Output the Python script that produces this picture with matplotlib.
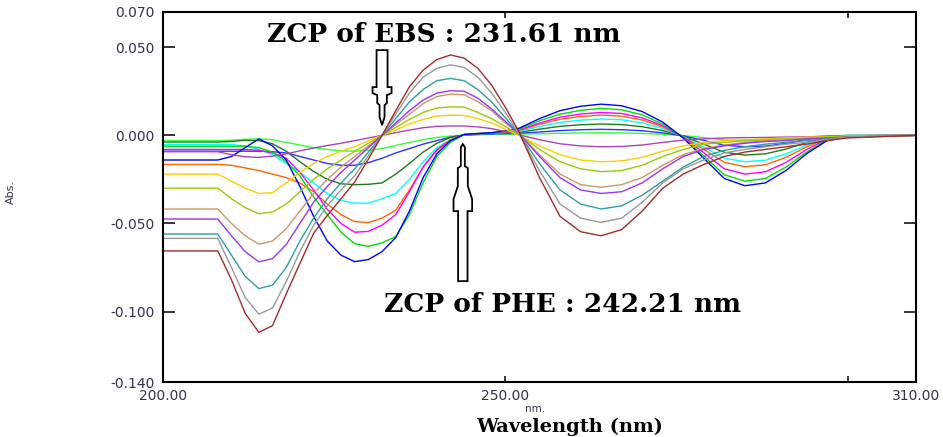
import matplotlib
matplotlib.use("Agg")
import matplotlib.pyplot as plt
from matplotlib.patches import Polygon
from matplotlib.transforms import ScaledTranslation

# ---------------------------
# 1. Data (derivative spectra)
# ---------------------------
wavelength = [200, 208, 210, 212, 214, 216, 218, 220, 222, 224, 226, 228, 230,
              232, 234, 236, 238, 240, 242, 244, 246, 248, 250, 252, 255, 258,
              261, 264, 267, 270, 273, 276, 279, 282, 285, 288, 291, 294, 297,
              300, 310]

# EBS series (zero crossing 231.61 nm)
ebs_maroon = [-0.0656, -0.0656, -0.082, -0.101, -0.1118, -0.108, -0.090, -0.0727, -0.0556, -0.0455,
              -0.036, -0.0265, -0.0135, 0.0, 0.014, 0.0276, 0.037, 0.0430, 0.0456, 0.0438,
              0.038, 0.0285, 0.016, 0.002, -0.024, -0.046, -0.0547, -0.057, -0.0535, -0.043,
              -0.030, -0.022, -0.0165, -0.012, -0.0095, -0.008, -0.0065, -0.005, -0.003, -0.0015, 0.0]
ebs_gray = [-0.0585, -0.0585, -0.075, -0.092, -0.1015, -0.098, -0.083, -0.066, -0.051, -0.040,
            -0.031, -0.023, -0.0115, 0.0, 0.012, 0.024, 0.033, 0.038, 0.040, 0.0385,
            0.033, 0.024, 0.013, 0.001, -0.020, -0.039, -0.047, -0.0494, -0.047, -0.038,
            -0.027, -0.019, -0.014, -0.010, -0.008, -0.0065, -0.005, -0.004, -0.0025, -0.001, 0.0]
ebs_teal = [-0.056, -0.056, -0.068, -0.080, -0.087, -0.085, -0.075, -0.060, -0.047, -0.036,
            -0.027, -0.019, -0.0095, 0.0, 0.0095, 0.019, 0.026, 0.031, 0.0323, 0.031,
            0.026, 0.019, 0.010, 0.001, -0.016, -0.031, -0.039, -0.0418, -0.040, -0.034,
            -0.026, -0.018, -0.012, -0.0085, -0.0065, -0.005, -0.004, -0.003, -0.002, -0.001, 0.0]
ebs_violet = [-0.0475, -0.0475, -0.057, -0.066, -0.0718, -0.070, -0.062, -0.050, -0.038, -0.029,
              -0.021, -0.014, -0.007, 0.0, 0.007, 0.014, 0.020, 0.024, 0.0253, 0.025,
              0.021, 0.015, 0.008, 0.001, -0.012, -0.024, -0.031, -0.033, -0.032, -0.027,
              -0.019, -0.012, -0.008, -0.006, -0.0045, -0.0035, -0.003, -0.002, -0.0015, -0.001, 0.0]
ebs_tan = [-0.0418, -0.0418, -0.050, -0.057, -0.0618, -0.060, -0.053, -0.043, -0.033, -0.025,
           -0.018, -0.012, -0.006, 0.0, 0.006, 0.012, 0.018, 0.022, 0.0234, 0.023,
           0.019, 0.014, 0.007, 0.001, -0.011, -0.022, -0.028, -0.0295, -0.028, -0.024,
           -0.017, -0.011, -0.0075, -0.0055, -0.004, -0.003, -0.0025, -0.002, -0.0015, -0.001, 0.0]
ebs_yellowgreen = [-0.030, -0.030, -0.036, -0.041, -0.0445, -0.0435, -0.039, -0.032, -0.025, -0.019,
                   -0.014, -0.009, -0.0045, 0.0, 0.0045, 0.009, 0.013, 0.0155, 0.0162, 0.016,
                   0.013, 0.0095, 0.005, 0.0005, -0.008, -0.015, -0.019, -0.0206, -0.020, -0.017,
                   -0.012, -0.008, -0.005, -0.004, -0.003, -0.0025, -0.002, -0.0015, -0.001, -0.0005, 0.0]
ebs_gold = [-0.022, -0.022, -0.026, -0.030, -0.033, -0.0325, -0.027, -0.021, -0.016, -0.012,
            -0.009, -0.0065, -0.003, 0.0, 0.003, 0.0065, 0.009, 0.011, 0.0115, 0.0113,
            0.0095, 0.007, 0.0035, 0.0, -0.006, -0.011, -0.014, -0.015, -0.0145, -0.0125,
            -0.009, -0.006, -0.004, -0.003, -0.0025, -0.002, -0.0015, -0.001, -0.0008, -0.0004, 0.0]
ebs_orchid = [-0.0093, -0.0093, -0.011, -0.0122, -0.0125, -0.0118, -0.0105, -0.0088, -0.0072, -0.0058,
              -0.0045, -0.003, -0.0015, 0.0, 0.0015, 0.003, 0.0043, 0.0051, 0.0053, 0.0053,
              0.0048, 0.0038, 0.0022, 0.0003, -0.0025, -0.0048, -0.006, -0.0065, -0.0063, -0.0055,
              -0.004, -0.0027, -0.002, -0.0015, -0.0013, -0.0012, -0.001, -0.0008, -0.0005, -0.0003, 0.0]

# PHE series (zero crossing 242.21 nm)
phe_blue = [-0.014, -0.014, -0.012, -0.007, -0.002, -0.006, -0.014, -0.029, -0.046, -0.060,
            -0.068, -0.0717, -0.0705, -0.066, -0.058, -0.043, -0.024, -0.0105, -0.003,
            0.0005, 0.001, 0.0015, 0.0025, 0.004,
            0.0095, 0.014, 0.0165, 0.0177, 0.0168, 0.0135, 0.0075, -0.0015, -0.013, -0.0245,
            -0.0286, -0.027, -0.020, -0.0105, -0.003, -0.0005, 0.0]
phe_green = [-0.0062, -0.0062, -0.0062, -0.0062, -0.007, -0.0095, -0.015, -0.023, -0.035, -0.045,
             -0.055, -0.0615, -0.063, -0.061, -0.0575, -0.045, -0.027, -0.012, -0.004,
             0.0005, 0.001, 0.0015, 0.0022, 0.0035,
             0.0083, 0.012, 0.0142, 0.0153, 0.0145, 0.0116, 0.0064, -0.0013, -0.0117, -0.0224,
             -0.026, -0.0245, -0.018, -0.0096, -0.0026, -0.0005, 0.0]
phe_magenta = [-0.008, -0.008, -0.008, -0.008, -0.0085, -0.010, -0.013, -0.021, -0.031, -0.042,
               -0.050, -0.055, -0.0545, -0.051, -0.045, -0.032, -0.018, -0.0085, -0.003,
               0.0005, 0.001, 0.0014, 0.002, 0.003,
               0.007, 0.0103, 0.0121, 0.013, 0.0124, 0.0099, 0.0055, -0.001, -0.0099, -0.019,
               -0.022, -0.0207, -0.0154, -0.0081, -0.0022, -0.0004, 0.0]
phe_orange = [-0.0165, -0.0165, -0.017, -0.0185, -0.020, -0.022, -0.024, -0.027, -0.032, -0.039,
              -0.045, -0.049, -0.0495, -0.047, -0.0425, -0.031, -0.018, -0.008, -0.0025,
              0.0004, 0.0009, 0.0013, 0.0018, 0.0027,
              0.0062, 0.0091, 0.0107, 0.0115, 0.0109, 0.0087, 0.0048, -0.0009, -0.008, -0.0153,
              -0.0178, -0.0167, -0.0125, -0.0066, -0.0018, -0.0004, 0.0]
phe_cyan = [-0.0053, -0.0053, -0.0053, -0.006, -0.008, -0.011, -0.016, -0.021, -0.027, -0.033,
            -0.037, -0.0385, -0.0385, -0.036, -0.033, -0.025, -0.015, -0.007, -0.0025,
            0.0004, 0.0008, 0.0012, 0.0016, 0.0022,
            0.005, 0.0073, 0.0086, 0.0093, 0.0088, 0.0071, 0.0039, -0.0007, -0.0068, -0.0129,
            -0.015, -0.0141, -0.0105, -0.0056, -0.0015, -0.0003, 0.0]
phe_darkgreen = [-0.0038, -0.0038, -0.0035, -0.0028, -0.003, -0.0048, -0.009, -0.015, -0.0205, -0.025,
                 -0.0275, -0.028, -0.0278, -0.027, -0.022, -0.016, -0.0095, -0.0045, -0.0012,
                 0.0003, 0.0007, 0.001, 0.0013, 0.0017,
                 0.0035, 0.0051, 0.006, 0.0064, 0.0061, 0.0049, 0.0027, -0.0005, -0.005, -0.0096,
                 -0.0112, -0.0105, -0.0078, -0.0041, -0.0011, -0.0002, 0.0]
phe_blue2 = [-0.009, -0.009, -0.009, -0.009, -0.009, -0.0093, -0.010, -0.012, -0.014, -0.016,
             -0.017, -0.017, -0.0155, -0.013, -0.010, -0.0075, -0.005, -0.003, -0.001,
             0.0002, 0.0005, 0.0008, 0.001, 0.0012,
             0.0019, 0.0027, 0.0032, 0.0034, 0.0032, 0.0026, 0.0014, -0.0003, -0.0029, -0.0056,
             -0.0065, -0.0061, -0.0046, -0.0024, -0.0007, -0.0001, 0.0]
phe_lightgreen = [-0.003, -0.003, -0.0028, -0.0022, -0.002, -0.0025, -0.004, -0.0055, -0.007, -0.008,
                  -0.0088, -0.009, -0.0085, -0.0075, -0.0058, -0.004, -0.0025, -0.0012, -0.0004,
                  0.0001, 0.0003, 0.0005, 0.0006, 0.0007,
                  0.0009, 0.0012, 0.0014, 0.0015, 0.0014, 0.0011, 0.0006, -0.0001, -0.0013, -0.0026,
                  -0.003, -0.0028, -0.0021, -0.0011, -0.0003, 0.0, 0.0]

series = [
    (phe_lightgreen, "#33ff33"),
    (phe_blue2, "#3333ff"),
    (phe_darkgreen, "#1f7a1f"),
    (phe_cyan, "#00ffff"),
    (phe_orange, "#ff6600"),
    (phe_magenta, "#ff00ff"),
    (phe_green, "#00e000"),
    (phe_blue, "#0000ff"),
    (ebs_orchid, "#aa44bb"),
    (ebs_gold, "#ffcc00"),
    (ebs_yellowgreen, "#99cc00"),
    (ebs_tan, "#cc9966"),
    (ebs_violet, "#9933ff"),
    (ebs_teal, "#2ea0a0"),
    (ebs_gray, "#999999"),
    (ebs_maroon, "#a52a2a"),
]

x_ticks = [200, 250, 300, 310]
x_labels = ["200.00", "250.00", "", "310.00"]
y_ticks = [0.07, 0.05, 0.0, -0.05, -0.10, -0.14]
y_labels = ["0.070", "0.050", "0.000", "-0.050", "-0.100", "-0.140"]

zcp_ebs_text = "ZCP of EBS : 231.61 nm"
zcp_phe_text = "ZCP of PHE : 242.21 nm"

# ---------------------------
# 2. Figure
# ---------------------------
W, H = 943, 437
fig = plt.figure(figsize=(W / 100, H / 100), dpi=100)
ax = fig.add_axes([163 / W, 1 - 382 / H, (916 - 163) / W, (382 - 12) / H])

for values, color in series:
    ax.plot(wavelength, values, color=color, lw=1.0)

ax.set_xlim(200, 310)
ax.set_ylim(-0.14, 0.07)

ax.set_xticks(x_ticks)
ax.set_xticklabels(x_labels)
ax.set_yticks(y_ticks)
ax.set_yticklabels(y_labels)

tick_color = "#33334a"
ax.tick_params(axis="x", direction="in", length=4.5, width=1.1, top=True,
               labelsize=10, labelcolor=tick_color, pad=5)
ax.tick_params(axis="y", direction="in", length=8.5, width=1.1, right=True,
               labelsize=10, labelcolor=tick_color, pad=6)
for s in ax.spines.values():
    s.set_linewidth(1.5)

# ---------------------------
# 3. Arrows + annotations
# ---------------------------
def hollow_arrow(x_tip, y_tip, shape):
    # shape in pixels relative to the tip, drawn in display space
    trans = fig.dpi_scale_trans + ScaledTranslation(x_tip, y_tip, ax.transData)
    pts = [(dx / 100, dy / 100) for dx, dy in shape]
    ax.add_patch(Polygon(pts, closed=True, transform=trans, facecolor="white",
                         edgecolor="black", lw=1.3, zorder=5, clip_on=False))

down_shape = [(0, 0), (-2.5, 8), (-2.5, 20), (-4.8, 22), (-4.8, 30), (-9.5, 32), (-9.5, 38),
              (-5.5, 38), (-5.5, 75), (5.5, 75), (5.5, 38), (9.5, 38), (9.5, 32),
              (4.8, 30), (4.8, 22), (2.5, 20), (2.5, 8)]
up_shape = [(0, 0), (-2, -3), (-2, -22), (-5, -24), (-5, -42), (-9.3, -55), (-9.3, -67),
            (-4.7, -67), (-4.7, -137), (4.7, -137), (4.7, -67), (9.3, -67), (9.3, -55),
            (5, -42), (5, -24), (2, -22), (2, -3)]

hollow_arrow(232.0, 0.0058, down_shape)
hollow_arrow(243.8, -0.005, up_shape)

ax.text(444 / W, 1 - 34 / H, zcp_ebs_text, transform=fig.transFigure, ha="center",
        va="center", fontsize=19, fontweight="bold", family="DejaVu Serif", zorder=6)
ax.text(563 / W, 1 - 304 / H, zcp_phe_text, transform=fig.transFigure, ha="center",
        va="center", fontsize=19, fontweight="bold", family="DejaVu Serif", zorder=6)

fig.text(535 / W, 1 - 409 / H, "nm.", ha="center", va="center", fontsize=7.5, color=tick_color)
fig.text(570 / W, 1 - 427 / H, "Wavelength (nm)", ha="center", va="center",
         fontsize=14, fontweight="bold", family="DejaVu Serif")
fig.text(11 / W, 1 - 192 / H, "Abs.", ha="center", va="center", rotation=90,
         fontsize=8, color=tick_color)

plt.savefig("out.png", dpi=100)
